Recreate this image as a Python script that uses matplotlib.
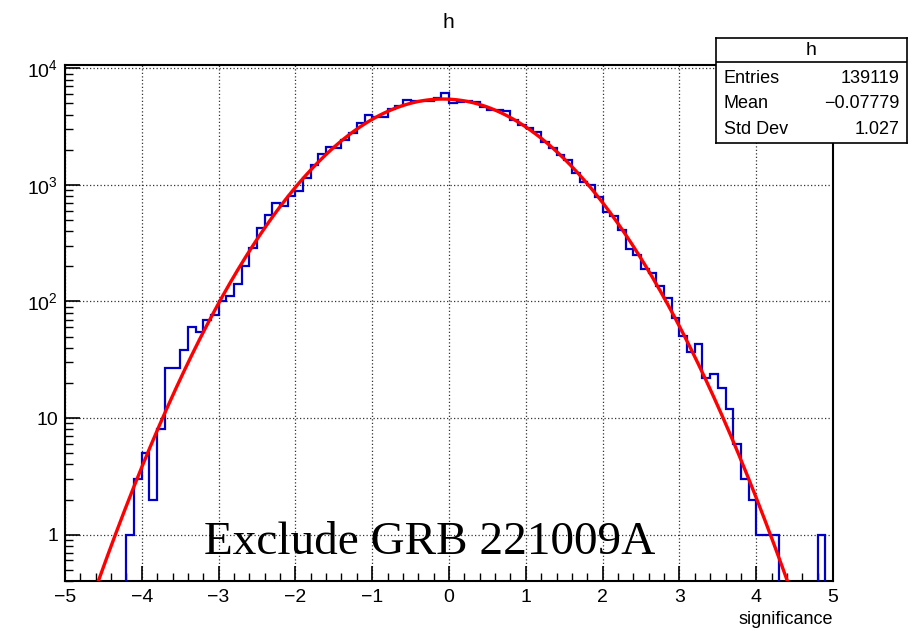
import numpy as np
import matplotlib
matplotlib.use("Agg")
import matplotlib.pyplot as plt
from matplotlib.ticker import FixedLocator, NullFormatter, MultipleLocator

plt.rcParams["font.family"] = ["Liberation Sans", "DejaVu Sans"]
plt.rcParams["mathtext.default"] = "regular"

# ------------------------------------------------------------
# dados (100 bins entre -5 e 5)
# ------------------------------------------------------------
x_min, x_max, n_bins = -5.0, 5.0, 100

contagens_esq = [0, 0, 0, 0, 0, 0, 0, 0,
                 1, 3, 5, 2, 8, 27, 27, 38, 60, 55,
                 69, 77, 100, 112, 141, 200, 287, 425, 552, 700,
                 655, 800, 880, 1140, 1485, 1846, 2107, 2066, 2404, 2780,
                 3390, 3950, 3800, 3800, 4450, 4750, 5300, 5250, 5200, 5250,
                 5550, 6100]

contagens_dir = [5050, 5130, 5200, 5150, 4610, 4350, 4350, 4270, 3615, 3275,
                 3066, 2833, 2355, 2065, 1811, 1620, 1260, 1068, 1000, 794,
                 590, 545, 410, 284, 250, 188, 176, 137, 108, 72,
                 51, 37, 43, 22, 24, 18, 12, 6, 3, 2,
                 1, 1, 1, 0, 0, 0, 0, 0, 1, 0]

contagens = np.array(contagens_esq + contagens_dir, dtype=float)

# parametros do ajuste gaussiano (curva vermelha)
fit_amp = 5450.0
fit_media = -0.08
fit_sigma = 1.028

# caixa de estatisticas
stats_nome = "h"
stats_rotulos = ["Entries", "Mean", "Std Dev"]
stats_valores = ["139119", "\u22120.07779", "1.027"]

titulo = "h"
rotulo_x = "significance"
anotacao = "Exclude GRB 221009A"

y_ticks = [1, 10, 100, 1000, 10000]
y_tick_labels = ["1", "10", "$10^{2}$", "$10^{3}$", "$10^{4}$"]

# ------------------------------------------------------------
# figura
# ------------------------------------------------------------
fig = plt.figure(figsize=(9.22, 6.31), dpi=100)
ax = fig.add_axes([0.0705, 0.0792, 0.833, 0.818])

bordas = np.linspace(x_min, x_max, n_bins + 1)
valores_plot = np.where(contagens > 0, contagens, 1e-3)
ax.stairs(valores_plot, bordas, color="#0000c8", linewidth=1.6, baseline=None, zorder=3)

x_fit = np.linspace(x_min, x_max, 800)
y_fit = fit_amp * np.exp(-0.5 * ((x_fit - fit_media) / fit_sigma) ** 2)
ax.plot(x_fit, y_fit, color="#ff0000", linewidth=2.4, zorder=4)

ax.set_yscale("log")
ax.set_xlim(x_min, x_max)
ax.set_ylim(0.4, 10700)

ax.xaxis.set_minor_locator(MultipleLocator(0.2))
ax.set_xticks(np.arange(-5, 6, 1))
ax.set_xticklabels([f"{v}".replace("-", "\u2212") for v in range(-5, 6)])

ax.yaxis.set_major_locator(FixedLocator(y_ticks))
ax.set_yticklabels(y_tick_labels)
ax.yaxis.set_minor_formatter(NullFormatter())

ax.tick_params(axis="both", which="major", direction="in", length=11, width=1.2,
               labelsize=14, pad=5)
ax.tick_params(axis="both", which="minor", direction="in", length=6, width=1.0)
ax.tick_params(axis="x", which="major", pad=6)

ax.grid(True, which="major", color="#333333", linestyle=(0, (1, 1.8)), linewidth=0.9)
for lado in ax.spines.values():
    lado.set_linewidth(1.5)

ax.set_xlabel(rotulo_x, fontsize=13, loc="right", labelpad=3)

ax.text(0.475, 0.052, anotacao, transform=ax.transAxes, ha="center", va="baseline",
        fontsize=34, family=["Liberation Serif", "DejaVu Serif"], zorder=6)

fig.text(0.486, 0.965, titulo, ha="center", va="center", fontsize=15)

# caixa de estatisticas estilo ROOT
caixa = fig.add_axes([0.7766, 0.7734, 0.2071, 0.1664])
caixa.set_xticks([])
caixa.set_yticks([])
caixa.set_xlim(0, 1)
caixa.set_ylim(0, 1)
for lado in caixa.spines.values():
    lado.set_linewidth(1.2)
caixa.axhline(0.775, color="black", linewidth=1.2)
caixa.text(0.5, 0.885, stats_nome, ha="center", va="center", fontsize=14)
linhas_y = [0.615, 0.375, 0.13]
for yy, rot, val in zip(linhas_y, stats_rotulos, stats_valores):
    caixa.text(0.04, yy, rot, ha="left", va="center", fontsize=13)
    caixa.text(0.96, yy, val, ha="right", va="center", fontsize=13)

fig.savefig("out.png", dpi=100)
